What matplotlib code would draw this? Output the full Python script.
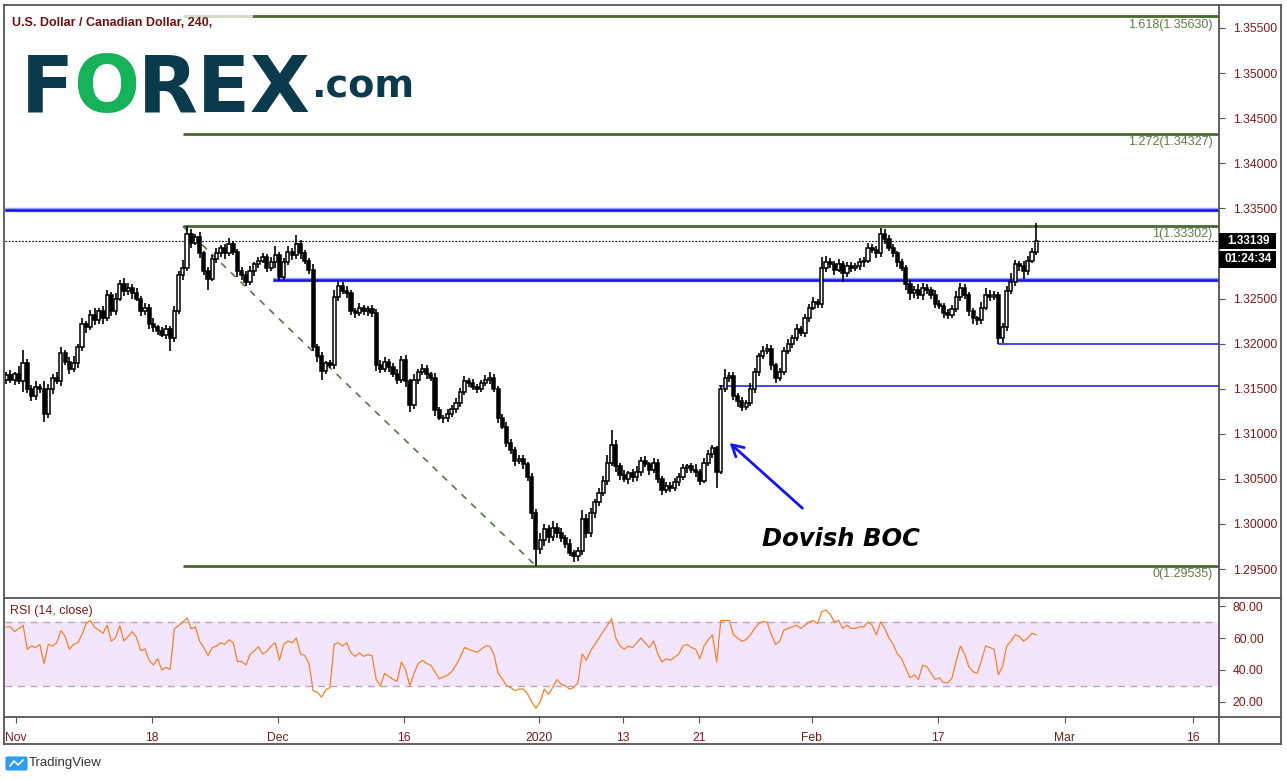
import numpy as np
import matplotlib
matplotlib.use("Agg")
import matplotlib.pyplot as plt
from matplotlib.lines import Line2D
from matplotlib.patches import Rectangle, FancyBboxPatch

plt.rcParams['font.family'] = ['Liberation Sans', 'DejaVu Sans']

# USD/CAD closes, one bar every 8 hours
closes = [
    1.3165, 1.3160, 1.3166, 1.3158, 1.3178, 1.3150, 1.3142, 1.3152, 1.3150, 1.3122,
    1.3150, 1.3162, 1.3158, 1.3190, 1.3180, 1.3172, 1.3178, 1.3196, 1.3222, 1.3218,
    1.3232, 1.3226, 1.3236, 1.3228, 1.3254, 1.3236, 1.3250, 1.3266, 1.3258, 1.3262,
    1.3256, 1.3250, 1.3236, 1.3240, 1.3222, 1.3218, 1.3214, 1.3210, 1.3216, 1.3206,
    1.3236, 1.3276, 1.3284, 1.3322, 1.3312, 1.3318, 1.3300, 1.3280, 1.3272, 1.3294,
    1.3300, 1.3306, 1.3300, 1.3310, 1.3302, 1.3280, 1.3276, 1.3268, 1.3280, 1.3288,
    1.3292, 1.3296, 1.3284, 1.3290, 1.3298, 1.3274, 1.3290, 1.3302, 1.3298, 1.3310,
    1.3300, 1.3292, 1.3282, 1.3196, 1.3186, 1.3170, 1.3178, 1.3176, 1.3252, 1.3264,
    1.3258, 1.3256, 1.3236, 1.3234, 1.3240, 1.3236, 1.3238, 1.3234, 1.3176, 1.3172,
    1.3180, 1.3174, 1.3166, 1.3160, 1.3182, 1.3158, 1.3132, 1.3160, 1.3168, 1.3172,
    1.3166, 1.3162, 1.3126, 1.3118, 1.3117, 1.3122, 1.3128, 1.3134, 1.3146, 1.3158,
    1.3156, 1.3152, 1.3150, 1.3156, 1.3160, 1.3162, 1.3150, 1.3118, 1.3108, 1.3090,
    1.3082, 1.3070, 1.3072, 1.3066, 1.3052, 1.3012, 1.2972, 1.2982, 1.2994, 1.2986,
    1.2996, 1.2990, 1.2984, 1.2978, 1.2968, 1.2964, 1.2970, 1.3006, 1.2990, 1.3012,
    1.3024, 1.3034, 1.3048, 1.3068, 1.3088, 1.3064, 1.3054, 1.3050, 1.3056, 1.3052,
    1.3058, 1.3070, 1.3066, 1.3060, 1.3068, 1.3050, 1.3038, 1.3042, 1.3040, 1.3046,
    1.3052, 1.3062, 1.3064, 1.3060, 1.3058, 1.3048, 1.3068, 1.3078, 1.3084, 1.3058,
    1.3150, 1.3162, 1.3164, 1.3142, 1.3136, 1.3130, 1.3134, 1.3150, 1.3168, 1.3186,
    1.3192, 1.3194, 1.3176, 1.3162, 1.3168, 1.3192, 1.3200, 1.3206, 1.3216, 1.3212,
    1.3228, 1.3240, 1.3246, 1.3244, 1.3284, 1.3290, 1.3288, 1.3282, 1.3288, 1.3278,
    1.3286, 1.3284, 1.3286, 1.3290, 1.3292, 1.3306, 1.3304, 1.3300, 1.3322, 1.3316,
    1.3306, 1.3300, 1.3290, 1.3284, 1.3266, 1.3256, 1.3260, 1.3254, 1.3262, 1.3260,
    1.3254, 1.3244, 1.3242, 1.3234, 1.3232, 1.3238, 1.3252, 1.3262, 1.3254, 1.3236,
    1.3228, 1.3226, 1.3240, 1.3254, 1.3252, 1.3254, 1.3206, 1.3218, 1.3258, 1.3268,
    1.3288, 1.3286, 1.3280, 1.3292, 1.3302, 1.33139,
]
first_open = 1.3160

# wick lengths above / below the candle body, in pips
up_wick = [
    4, 6, 3, 9, 15, 5, 4, 6, 3, 8,
    5, 4, 7, 6, 3, 5, 8, 4, 6, 3,
    5, 7, 4, 6, 5, 3, 6, 4, 7, 5,
    4, 6, 3, 5, 4, 6, 3, 4, 5, 3,
    6, 4, 9, 8, 5, 4, 6, 3, 5, 4,
    6, 3, 5, 7, 4, 3, 5, 4, 6, 3,
    4, 5, 3, 6, 10, 4, 5, 6, 4, 10,
    5, 4, 3, 6, 4, 5, 3, 4, 8, 5,
    4, 6, 3, 4, 5, 3, 4, 5, 4, 6,
    5, 3, 4, 6, 4, 5, 3, 6, 4, 5,
    4, 3, 5, 4, 3, 5, 4, 6, 5, 6,
    4, 5, 3, 4, 5, 6, 4, 3, 4, 5,
    4, 3, 5, 4, 3, 4, 5, 8, 6, 5,
    7, 5, 6, 4, 5, 3, 4, 9, 5, 6,
    4, 6, 5, 8, 16, 5, 4, 6, 3, 5,
    6, 4, 5, 3, 5, 4, 3, 5, 4, 5,
    4, 5, 3, 4, 6, 3, 5, 4, 4, 3,
    4, 10, 5, 4, 3, 5, 4, 6, 5, 4,
    5, 6, 4, 3, 5, 4, 5, 4, 6, 3,
    5, 4, 6, 3, 12, 7, 5, 4, 6, 4,
    5, 4, 3, 5, 4, 6, 5, 4, 6, 5,
    4, 5, 3, 4, 3, 5, 4, 6, 5, 4,
    3, 5, 4, 3, 4, 5, 6, 5, 4, 3,
    4, 3, 6, 8, 5, 4, 3, 5, 6, 10,
    5, 4, 6, 5, 4, 20,
]
low_wick = [
    5, 4, 6, 3, 12, 5, 6, 4, 5, 9,
    4, 6, 3, 5, 4, 6, 3, 5, 4, 6,
    3, 5, 4, 6, 3, 5, 4, 3, 5, 4,
    6, 3, 5, 4, 6, 5, 4, 3, 5, 14,
    4, 3, 5, 4, 6, 3, 5, 4, 12, 3,
    5, 4, 6, 3, 4, 6, 5, 4, 3, 5,
    4, 3, 5, 4, 6, 5, 4, 3, 5, 4,
    6, 4, 5, 4, 6, 10, 4, 3, 4, 5,
    3, 5, 4, 6, 3, 4, 5, 4, 6, 5,
    4, 6, 3, 5, 4, 6, 8, 4, 5, 3,
    5, 4, 6, 3, 5, 4, 3, 5, 4, 3,
    4, 3, 5, 4, 3, 5, 4, 6, 3, 5,
    4, 6, 3, 5, 4, 6, 19, 5, 6, 7,
    5, 6, 4, 5, 4, 6, 5, 4, 6, 4,
    5, 4, 3, 5, 4, 6, 5, 4, 6, 5,
    4, 5, 3, 6, 4, 5, 6, 4, 5, 3,
    4, 3, 5, 4, 6, 5, 3, 4, 5, 18,
    3, 4, 5, 4, 6, 5, 4, 3, 5, 4,
    3, 4, 5, 6, 4, 3, 4, 5, 3, 4,
    5, 4, 3, 5, 4, 5, 4, 6, 3, 10,
    4, 5, 3, 4, 5, 3, 4, 5, 4, 5,
    3, 4, 5, 4, 6, 8, 5, 4, 6, 5,
    4, 5, 4, 6, 5, 4, 3, 5, 4, 5,
    6, 5, 4, 3, 5, 4, 6, 5, 4, 3,
    4, 5, 8, 4, 3, 4,
]

# RSI (14, close), one value per bar
rsi_values = [
    67, 67, 64, 66, 68, 53, 55, 54, 56, 44,
    56, 55, 57, 64.6, 61, 53, 56, 57, 62, 69,
    71, 66.8, 65, 63, 68, 58, 60.3, 67.8, 58.2, 61,
    64, 60.3, 52, 53.2, 46, 43.1, 47, 40, 41.6, 40.3,
    65.7, 67.8, 70, 72.6, 65.7, 67, 58, 53.9, 49, 54,
    55, 57, 56, 59, 57, 45.3, 45.3, 43.1, 49.6, 52,
    54.5, 50, 51.7, 55, 57, 46, 56, 58.2, 57, 60,
    50, 49, 44, 27, 26, 23, 27.4, 29, 56, 57,
    55, 57, 50.6, 48.5, 50.6, 48.5, 49.6, 49, 34, 30,
    37.8, 36, 34, 33, 45, 40, 30.2, 37.8, 44, 46,
    44, 43, 38.8, 34.5, 35.5, 36.7, 39, 43, 48, 54,
    53, 52, 51, 53, 55, 55, 50, 38, 34.5, 30,
    29, 27, 28, 28, 25, 20, 16, 20, 28, 24.8,
    29, 34, 31, 30, 28, 29, 32, 50, 46, 52,
    56, 60, 64, 68, 72, 60, 55, 53, 55, 54,
    57, 60, 57, 54, 58.2, 50, 45, 47, 46, 48,
    50, 55, 56, 54, 53, 47, 55, 59, 62, 45,
    71, 71, 71, 62, 60, 58, 59, 62, 66, 69,
    70.4, 70, 62, 56, 58, 65, 66, 67, 68, 66,
    68, 70, 71, 69, 76.5, 77.5, 75, 70, 71, 66,
    68, 66, 66, 67, 67, 70, 68, 62, 70, 66,
    60, 56, 50, 47, 41, 35, 37, 34, 43, 42,
    38, 34, 35, 32, 32, 35, 46, 55, 50, 42,
    38.8, 38, 46, 55, 54, 53, 37, 42, 55, 58,
    62, 61, 58, 60, 63, 62,
]

tick_pos = [2.3, 34.7, 64.7, 94.7, 126.8, 146.6, 164.9, 191.6, 221.6, 251.8, 282.3]
tick_labels = ['Nov', '18', 'Dec', '16', '2020', '13', '21', 'Feb', '17', 'Mar', '16']
# 1.33000 sits under the last-price boxes, so it is not listed
price_ticks = [1.295, 1.300, 1.305, 1.310, 1.315, 1.320, 1.325,
               1.335, 1.340, 1.345, 1.350, 1.355]
rsi_ticks = [20, 40, 60, 80]

fib_ratio = ['0', '1', '1.272', '1.618']
fib_price = [1.29535, 1.33302, 1.34327, 1.35630]
fib_from_bar = 42          # swing high bar
fib_low_bar = 126          # swing low bar
blue_thick = [1.3348, 1.3270]
blue_thick_from = [-0.3, 63.5]
blue_thin = [1.3153, 1.3200]
blue_thin_from = [169.5, 236]
last_price = 1.33139
countdown = '01:24:34'

# ---------------------------------------------------------------
W, H = 1287, 781
fig = plt.figure(figsize=(W / 100, H / 100), dpi=100)
fig.patch.set_facecolor('white')

def fbox(x0, y0, x1, y1):
    return [x0 / W, 1 - y1 / H, (x1 - x0) / W, (y1 - y0) / H]

ax = fig.add_axes(fbox(5, 5, 1219, 597))
ax_rsi = fig.add_axes(fbox(5, 597, 1219, 717), sharex=ax)

dark_red = '#7b1c1c'
fib_green = '#49692f'
blue = '#1515e8'
x_right = 288.5
ax.set_xlim(-0.3, x_right)
ax.set_ylim(1.29190, 1.35755)

c = np.array(closes)
o = np.array([first_open] + closes[:-1])
hi = np.maximum(o, c) + np.array(up_wick) / 10000
lo = np.minimum(o, c) - np.array(low_wick) / 10000
idx = np.arange(len(c))
rising = c >= o

ax.vlines(idx, lo, hi, color='black', lw=1.2, zorder=3)
ax.bar(idx, np.maximum(np.abs(c - o), 0.00008), bottom=np.minimum(o, c), width=0.75,
       color=np.where(rising, 'white', 'black'), edgecolor='black', linewidth=1.1, zorder=4)

# fibonacci extension
for r, p in zip(fib_ratio, fib_price):
    ax.hlines(p, fib_from_bar, x_right, color=fib_green, lw=2.0, zorder=2)
    ax.text(x_right - 1.5, p - 0.00025, f'{r}({p:.5f})', ha='right', va='top',
            fontsize=9, color='#5e7d47', zorder=6)
ax.plot([fib_from_bar, fib_low_bar], [fib_price[1], fib_price[0]], color='#5a7548',
        lw=1.2, dashes=(4, 4), zorder=2)

for p, x0 in zip(blue_thick, blue_thick_from):
    ax.hlines(p, x0, x_right, color='#9aa0ff', lw=3.2, zorder=2)
    ax.hlines(p, x0, x_right, color=blue, lw=1.8, zorder=2)
for p, x0 in zip(blue_thin, blue_thin_from):
    ax.hlines(p, x0, x_right, color=blue, lw=1.1, zorder=2)

ax.axhline(last_price, color='black', lw=0.8, ls=(0, (1.5, 1.5)), zorder=1)

ax.annotate('', xy=(171.6, 1.30919), xytext=(189.9, 1.30154),
            arrowprops=dict(arrowstyle='->,head_length=0.8,head_width=0.45',
                            color=blue, lw=2), zorder=6)
ax.text(179.7, 1.29833, 'Dovish BOC', fontsize=17.5, fontweight='bold', fontstyle='italic',
        family='DejaVu Sans', va='center', ha='left', color='black', zorder=6)

ax.yaxis.tick_right()
ax.set_yticks(price_ticks)
ax.set_yticklabels([f'{p:.5f}' for p in price_ticks])
ax.tick_params(axis='y', direction='out', length=4, color='#555555', labelcolor=dark_red,
               labelsize=8.7, pad=6)
ax.tick_params(axis='x', bottom=False, labelbottom=False)
for s in ax.spines.values():
    s.set_visible(False)

# RSI panel
ax_rsi.set_ylim(10.5, 85.7)
ax_rsi.axhspan(30, 70, color='#f3e6fc', lw=0, zorder=0)
for lvl in (30, 70):
    ax_rsi.axhline(lvl, color='#b5a6be', lw=1, dashes=(5, 4), zorder=1)
ax_rsi.plot(idx, rsi_values, color='#f7812b', lw=0.9, zorder=3)
ax_rsi.yaxis.tick_right()
ax_rsi.set_yticks(rsi_ticks)
ax_rsi.set_yticklabels([f'{v:.2f}' for v in rsi_ticks])
ax_rsi.tick_params(axis='y', direction='out', length=4, color='#555555', labelcolor=dark_red,
                   labelsize=8.7, pad=6)
ax_rsi.set_xticks(tick_pos)
ax_rsi.set_xticklabels(tick_labels)
ax_rsi.tick_params(axis='x', direction='out', length=4, color='#555555', labelcolor=dark_red,
                   labelsize=8.7, pad=7)
for s in ax_rsi.spines.values():
    s.set_visible(False)
ax_rsi.text(0.004, 0.88, 'RSI (14, close)', transform=ax_rsi.transAxes, fontsize=9,
            color=dark_red, va='center', ha='left')

# panel frame
def fig_line(x0, y0, x1, y1, **kw):
    fig.add_artist(Line2D([x0 / W, x1 / W], [1 - y0 / H, 1 - y1 / H],
                          transform=fig.transFigure, **kw))

frame = dict(color='#555555', lw=1.3, zorder=10)
fig_line(4, 5, 1281, 5, **frame)
fig_line(4, 744, 1281, 744, **frame)
fig_line(4, 5, 4, 744, **frame)
fig_line(1281, 5, 1281, 744, **frame)
fig_line(1219, 5, 1219, 744, **frame)
fig_line(4, 597.5, 1281, 597.5, **frame)
fig_line(4, 717, 1281, 717, **frame)

# last price boxes on the price scale
fig.add_artist(Rectangle((1219 / W, 1 - 249 / H), 57 / W, 16 / H, transform=fig.transFigure,
                         facecolor='black', edgecolor='none', zorder=11))
fig.add_artist(Rectangle((1219 / W, 1 - 268 / H), 57 / W, 17 / H, transform=fig.transFigure,
                         facecolor='black', edgecolor='none', zorder=11))
fig.text(1248 / W, 1 - 241 / H, f'{last_price:.5f}', color='white', fontsize=8.5,
         fontweight='bold', ha='center', va='center', zorder=12)
fig.text(1248 / W, 1 - 259.5 / H, countdown, color='white', fontsize=8.5,
         fontweight='bold', ha='center', va='center', zorder=12)

# legend title (with its faint background over the top fib line)
fig.add_artist(Rectangle((6 / W, 1 - 35 / H), 247 / W, 28 / H, transform=fig.transFigure,
                         facecolor='white', alpha=0.75, edgecolor='none', zorder=8))
fig.text(12 / W, 1 - 23 / H, 'U.S. Dollar / Canadian Dollar, 240,', fontsize=9,
         fontweight='bold', color='#6e1111', ha='left', va='center', zorder=9)

# FOREX.com logo
renderer = fig.canvas.get_renderer()
teal, green = '#0b3a4d', '#17b15a'
x = 21
for ch, col in zip('FOREX', [teal, green, teal, teal, teal]):
    t = fig.text(x / W, 1 - 112 / H, ch, fontsize=56, fontweight='bold', color=col,
                 family='DejaVu Sans', va='baseline', ha='left', zorder=9)
    x += t.get_window_extent(renderer).width - 1
fig.text((x + 3) / W, 1 - 97 / H, '.com', fontsize=27.5, fontweight='bold', color=teal,
         family='DejaVu Sans', va='baseline', ha='left', zorder=9)

# TradingView footer
fig.add_artist(FancyBboxPatch((8 / W, 1 - 769 / H), 17 / W, 11 / H,
                              boxstyle='round,pad=0.002', transform=fig.transFigure,
                              facecolor='#2d9cf0', edgecolor='none'))
fig.add_artist(Line2D([10 / W, 14 / W, 18 / W, 23 / W], [1 - 766 / H, 1 - 761 / H, 1 - 765 / H, 1 - 760 / H],
                      transform=fig.transFigure, color='white', lw=1.2))
fig.text(29 / W, 1 - 763 / H, 'TradingView', fontsize=9.5, color='#333333',
         ha='left', va='center')

fig.savefig('out.png', dpi=100)
